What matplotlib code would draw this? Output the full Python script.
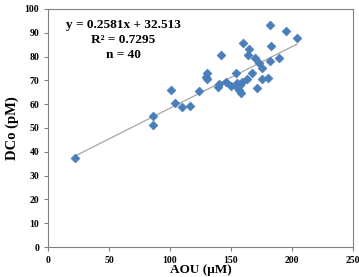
import numpy as np
import matplotlib.pyplot as plt

# AOU (uM) and DCo (pM)
aou = [182.0, 194.8, 204.3, 160.1, 183.0, 164.5, 141.8, 163.7, 169.9, 189.1,
       182.0, 173.2, 175.2, 130.6, 154.1, 167.2, 129.3, 130.1, 175.7, 180.1,
       162.9, 100.6, 124.0, 139.9, 145.9, 150.2, 154.7, 157.4, 155.2, 158.8,
       156.8, 158.0, 171.1, 139.3, 104.1, 109.8, 116.1, 85.8, 85.8, 22.1]
dco = [93.3, 90.9, 87.7, 85.6, 84.5, 83.3, 80.5, 80.5, 79.3, 79.3,
       78.2, 77.4, 75.1, 73.2, 73.2, 73.2, 71.3, 70.5, 70.6, 70.9,
       70.6, 66.0, 65.7, 68.4, 69.3, 67.6, 69.0, 68.1, 67.1, 69.5,
       66.0, 64.8, 66.8, 67.1, 60.6, 58.7, 59.4, 55.0, 51.3, 37.3]
slope = 0.2581
intercept = 32.513

plt.rcParams['font.family'] = 'Liberation Serif'
plt.rcParams['font.weight'] = 'bold'

fig = plt.figure(figsize=(3.59, 2.77), dpi=100)
ax = fig.add_axes([0.134, 0.108, 0.849, 0.860])

xs = np.array([min(aou), max(aou)])
ax.plot(xs, slope*xs+intercept, color='#a6a6a6', lw=0.9, zorder=1)
ax.scatter(aou, dco, marker='D', s=20, color='#4a7ebb', edgecolors='#4a7ebb', linewidths=0.5, zorder=2)

ax.set_xlim(0, 250)
ax.set_ylim(0, 100)
ax.set_xticks(range(0, 251, 50))
ax.set_yticks(range(0, 101, 10))
ax.tick_params(labelsize=7, length=3, width=0.8, color='#808080', direction='out')
for lab in ax.get_xticklabels()+ax.get_yticklabels():
    lab.set_fontweight('bold')
for sp in ax.spines.values():
    sp.set_color('#808080')
    sp.set_linewidth(0.8)

ax.set_xlabel('AOU (μM)', fontsize=9.5, fontweight='bold', labelpad=-1)
ax.set_ylabel('DCo (pM)', fontsize=10.5, fontweight='bold', labelpad=4)

ax.text(61.5, 93.3, 'y = 0.2581x + 32.513', fontsize=9.5, fontweight='bold', ha='center', va='center')
ax.text(61.5, 86.8, 'R² = 0.7295', fontsize=9.5, fontweight='bold', ha='center', va='center')
ax.text(61.5, 80.5, 'n = 40', fontsize=9.5, fontweight='bold', ha='center', va='center')

fig.savefig('out.png', dpi=100)
